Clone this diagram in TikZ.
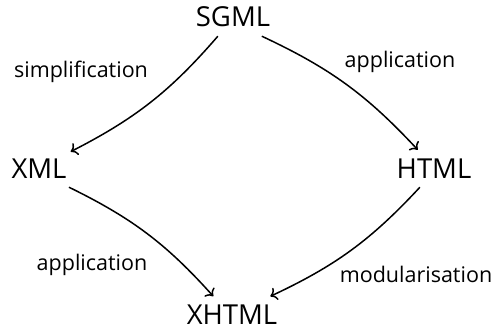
\documentclass[tikz,border=0pt]{standalone}
\usepackage{fontspec}
\setmainfont{Open Sans}
\usetikzlibrary{arrows.meta}
\begin{document}
\begin{tikzpicture}[x=1pt,y=-1pt,
  big/.style={font=\fontsize{27.5}{32}\selectfont, anchor=base, inner xsep=4pt, inner ysep=9pt, text height=19pt, text depth=0pt},
  lbl/.style={font=\fontsize{21.5}{25}\selectfont, inner sep=0pt},
  arr/.style={-{To[scale=1.3]}, line width=1.5pt, bend left=11}]
\useasboundingbox (0,0) rectangle (494,329);
\node[big] (sgml) at (233,27) {SGML};
\node[big] (xml) at (39,178) {XML};
\node[big] (html) at (434,178) {HTML};
\node[big] (xhtml) at (232,324.5) {XHTML};
\node[lbl] (l1) at (81,72) {simplification};
\node[lbl] (l2) at (400,62) {application};
\node[lbl] (l3) at (92,265) {application};
\node[lbl] (l4) at (416,274) {modularisation};
\draw[arr] (sgml.-129) to (xml.28);
\draw[arr] (sgml.-33) to (html.131);
\draw[arr] (xml.-32) to (xhtml.135);
\draw[arr] (html.-127) to (xhtml.26);
\end{tikzpicture}
\end{document}
